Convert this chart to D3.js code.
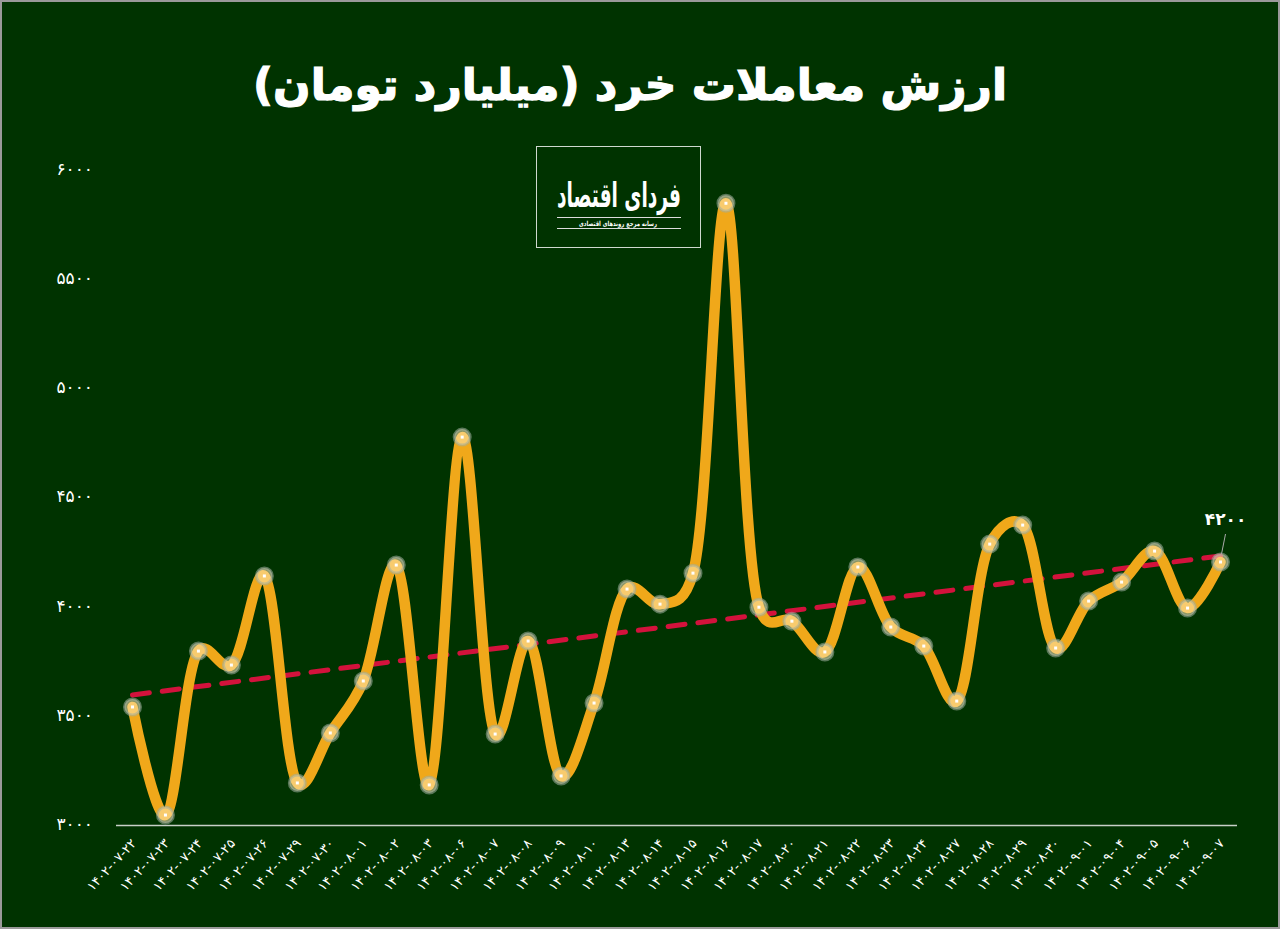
<!DOCTYPE html>
<html><head><meta charset="utf-8">
<script src="https://cdn.jsdelivr.net/npm/d3@7"></script>
<style>body{margin:0;background:#003300;}svg{display:block;}</style>
</head><body>
<svg id="chart" width="1280" height="929"></svg>
<script>
const title = "ارزش معاملات خرد (میلیارد تومان)";
const logoName = "فردای اقتصاد";
const logoSub = "رسانه مرجع روندهای اقتصادی";
const dates = ["1402-07-22","1402-07-23","1402-07-24","1402-07-25","1402-07-26","1402-07-29","1402-07-30",
"1402-08-01","1402-08-02","1402-08-03","1402-08-06","1402-08-07","1402-08-08","1402-08-09","1402-08-10",
"1402-08-13","1402-08-14","1402-08-15","1402-08-16","1402-08-17","1402-08-20","1402-08-21","1402-08-22",
"1402-08-23","1402-08-24","1402-08-27","1402-08-28","1402-08-29","1402-08-30","1402-09-01","1402-09-04",
"1402-09-05","1402-09-06","1402-09-07"];
const values = [3536,3041,3792,3728,4136,3188,3417,3655,4186,3179,4772,3412,3838,3220,3554,
4076,4007,4149,5843,3993,3929,3788,4177,3902,3815,3563,4282,4369,3806,4021,4108,4250,3989,4200];
const yTicks = [3000,3500,4000,4500,5000,5500,6000];
const lastLabel = 4200;

const fa = s => String(s).replace(/[0-9]/g, d => "۰۱۲۳۴۵۶۷۸۹"[+d]);
const svg = d3.select("#chart");
const W = 1280, H = 929;
svg.append("rect").attr("x",1).attr("y",1).attr("width",W-2).attr("height",H-2)
  .attr("fill","#003300").attr("stroke","#9a9a9a").attr("stroke-width",2);

const x = d3.scalePoint().domain(dates).range([116,1237]).padding(0.5);
const y = d3.scaleLinear().domain([3000,6000]).range([824,169]);

// title
svg.append("text").attr("x",630).attr("y",100).attr("text-anchor","middle")
  .attr("direction","rtl").attr("font-family","DejaVu Sans").attr("font-weight","bold")
  .attr("font-size",44).attr("fill","#fff").attr("stroke","#fff").attr("stroke-width",1.2).text(title);

// logo
const lg = svg.append("g");
lg.append("rect").attr("x",536.5).attr("y",146.5).attr("width",164).attr("height",101)
  .attr("fill","#003300").attr("stroke","#cfd8cf").attr("stroke-width",1);
lg.append("text").attr("x",619).attr("y",207).attr("text-anchor","middle").attr("direction","rtl")
  .attr("font-family","DejaVu Sans").attr("font-weight","bold").attr("font-size",34).attr("fill","#fff")
  .attr("textLength",124).attr("lengthAdjust","spacingAndGlyphs").text(logoName);
lg.append("line").attr("x1",557).attr("x2",681).attr("y1",217.5).attr("y2",217.5).attr("stroke","#ddd").attr("stroke-width",1);
lg.append("line").attr("x1",557).attr("x2",681).attr("y1",228.5).attr("y2",228.5).attr("stroke","#ddd").attr("stroke-width",1);
lg.append("text").attr("x",618).attr("y",226).attr("text-anchor","middle").attr("direction","rtl")
  .attr("font-family","DejaVu Sans").attr("font-weight","bold").attr("font-size",7).attr("fill","#fff")
  .attr("textLength",78).attr("lengthAdjust","spacingAndGlyphs").text(logoSub);

// y axis labels
const yAxis = d3.axisLeft(y).tickValues(yTicks).tickSize(0).tickPadding(0).tickFormat(d => fa(d));
const ya = svg.append("g").attr("transform","translate(93,0)").call(yAxis);
ya.select(".domain").remove();
ya.selectAll("text").attr("font-family","DejaVu Sans").attr("font-size",17).attr("fill","#fff").attr("dy","0.32em");

// x axis
const xAxis = d3.axisBottom(x).tickSize(0).tickPadding(0).tickFormat(d => fa(d));
const xa = svg.append("g").attr("transform","translate(0,825)").call(xAxis);
xa.select(".domain").attr("stroke","#c8d0c8").attr("stroke-width",1.5).attr("d","M116,0.5H1237");
xa.selectAll("text").attr("font-family","DejaVu Sans").attr("font-size",13).attr("fill","#fff")
  .attr("direction","ltr").attr("text-anchor","end").attr("dy",0).attr("y",0)
  .attr("transform","translate(4,19) rotate(-47)");

// trend line (least squares)
const n = values.length;
const idx = d3.range(n);
const mx = d3.mean(idx), my = d3.mean(values);
const slope = d3.sum(idx, i => (i-mx)*(values[i]-my)) / d3.sum(idx, i => (i-mx)*(i-mx));
const icp = my - slope*mx;
svg.append("line").attr("x1",x(dates[0])).attr("y1",y(icp))
  .attr("x2",x(dates[n-1])).attr("y2",y(icp+slope*(n-1)))
  .attr("stroke","#d3123c").attr("stroke-width",5).attr("stroke-dasharray","17,13").attr("stroke-linecap","round");

// main line
const line = d3.line().x((d,i)=>x(dates[i])).y(d=>y(d)).curve(d3.curveCatmullRom.alpha(0.25));
svg.append("path").datum(values).attr("d",line).attr("fill","none")
  .attr("stroke","#f0a81a").attr("stroke-width",10.5).attr("stroke-linejoin","round").attr("stroke-linecap","round");

const mk = svg.append("g");
mk.selectAll("circle").data(values).join("circle")
  .attr("cx",(d,i)=>x(dates[i])).attr("cy",d=>y(d)).attr("r",8)
  .attr("fill","rgba(255,232,180,0.55)").attr("stroke","rgba(160,175,160,0.55)").attr("stroke-width",3);
mk.selectAll("rect").data(values).join("rect")
  .attr("x",(d,i)=>x(dates[i])-1.5).attr("y",d=>y(d)-1.5).attr("width",3).attr("height",3).attr("fill","#fff");

// last label
const lx = x(dates[n-1]), lyv = y(values[n-1]);
svg.append("line").attr("x1",lx+1).attr("y1",lyv-8).attr("x2",lx+5).attr("y2",lyv-28)
  .attr("stroke","#aaa").attr("stroke-width",1);
svg.append("text").attr("x",lx+5).attr("y",lyv-37).attr("text-anchor","middle")
  .attr("font-family","DejaVu Sans").attr("font-weight","bold").attr("font-size",17).attr("fill","#fff")
  .text(fa(lastLabel));
</script>
</body></html>
